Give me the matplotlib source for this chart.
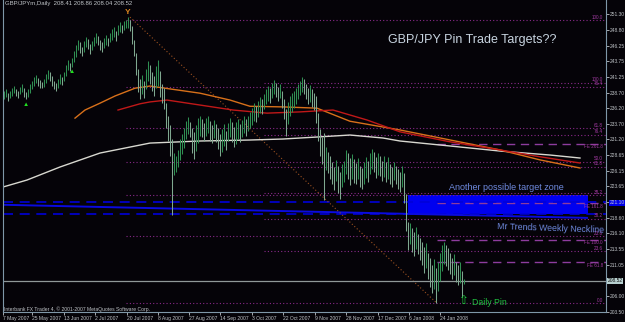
import numpy as np
import matplotlib.pyplot as plt

plt.rcParams['font.family'] = ['Liberation Sans', 'DejaVu Sans']

# daily bars, GBPJPY (high / low), one per bar from 7 May 2007
high = [
    238.9, 239.2, 238.6, 239.0, 239.5, 239.8, 239.3, 238.9, 239.6, 240.0, 239.4, 238.8, 239.3, 240.1,
    240.6, 241.2, 241.5, 241.0, 240.7, 240.4, 240.8,
    241.6, 242.4, 242.0, 241.3, 240.6, 240.3, 240.9, 241.6, 241.2,
    242.0, 243.2, 243.9, 243.5, 244.3, 245.3,
    246.3, 247.2, 246.8, 246.0, 246.9, 247.6, 247.3, 246.5,
    247.0, 247.6, 248.2, 247.7, 247.2, 246.8, 247.4, 248.0, 247.5, 248.3,
    248.9, 249.2, 248.6, 249.5, 250.0, 249.6, 250.2,
    250.4, 250.8, 250.3,
    249.4, 247.2, 245.0, 242.5, 240.8, 241.5, 240.5,
    242.5, 243.8, 243.2, 242.0, 241.4, 243.0, 243.9, 242.2, 240.0,
    239.5, 237.0, 235.0, 233.5, 231.2,
    229.0, 228.6, 229.5,
    231.2, 232.1, 233.0,
    234.2, 234.8, 234.0,
    233.0, 232.4, 233.5, 234.6, 235.0,
    234.5, 233.8, 234.6, 235.0, 234.2, 233.5, 234.3, 233.6,
    233.0, 232.0, 232.8, 233.6, 232.6,
    233.8, 234.6, 234.0, 233.2, 233.9, 234.4, 233.7,
    234.3, 234.9, 234.4, 235.0, 235.6,
    236.3, 237.0, 236.6, 237.4, 238.0, 237.6,
    238.5, 239.2, 239.8, 239.5,
    240.2, 240.7, 240.3, 239.6, 240.1,
    239.0, 237.6, 236.0, 237.2, 238.2,
    238.6, 239.0, 239.5, 240.0, 240.6,
    241.2, 240.9,
    240.0, 239.4, 239.9, 239.2, 238.7,
    238.2, 235.5,
    232.8, 231.5, 232.2, 230.0, 229.2, 228.5,
    227.6, 226.8, 227.9, 227.0, 226.0, 227.2, 227.8,
    229.5, 229.0, 228.2, 228.8, 228.0,
    227.4, 228.2, 227.0, 226.6, 227.5, 228.3, 227.8,
    229.0, 229.7, 229.2, 228.4, 229.0,
    228.6, 227.8, 228.5, 227.6, 228.3, 227.2, 226.8, 227.6,
    227.0, 226.4, 226.0, 227.0,
    225.8, 222.5, 218.0,
    217.8, 217.0, 216.4, 217.2, 216.0, 215.4,
    214.8, 213.9, 214.5, 213.0, 212.2, 211.0, 212.0, 210.5,
    211.6, 213.0, 214.2, 214.8, 214.3, 213.8,
    213.0, 212.2, 212.8, 211.6, 211.0, 211.5, 210.0, 208.86,
]
low = [
    237.6, 238.0, 237.4, 237.8, 238.2, 238.6, 238.1, 237.9, 238.4, 238.8, 238.0, 237.6, 238.0, 238.7,
    239.3, 239.8, 240.2, 239.7, 239.5, 239.4, 239.6,
    240.2, 240.8, 240.5, 239.8, 239.2, 239.0, 239.4, 240.1, 239.9,
    240.6, 241.4, 242.4, 242.2, 242.8, 243.6,
    244.4, 245.5, 245.1, 244.5, 245.2, 246.0, 245.7, 244.9,
    245.5, 246.2, 246.6, 246.3, 245.6, 245.2, 245.9, 246.4, 246.1, 246.8,
    247.2, 247.6, 246.9, 248.0, 248.4, 248.2, 248.7,
    249.0, 249.1, 248.6,
    246.5, 244.5, 241.5, 238.8, 237.6, 238.4, 237.8,
    239.2, 240.5, 240.0, 238.9, 238.2, 239.5, 239.7, 238.0, 237.0,
    236.0, 233.0, 231.0, 228.5, 219.1,
    225.4, 226.0, 226.8,
    227.9, 228.8, 229.8,
    231.2, 232.0, 231.5,
    229.0, 228.0, 229.3, 230.6, 231.8,
    231.5, 230.9, 231.7, 232.2, 231.0, 230.6, 231.4, 230.8,
    229.6, 228.5, 229.2, 230.2, 229.5,
    230.9, 231.5, 230.8, 230.0, 230.5, 231.2, 230.7,
    231.6, 232.2, 231.8, 232.5, 233.0,
    233.5, 234.2, 233.9, 234.8, 235.5, 235.2,
    236.1, 236.8, 237.3, 237.0,
    237.9, 238.4, 238.0, 237.4, 237.8,
    236.2, 234.5, 231.8, 233.6, 235.0,
    235.6, 236.3, 236.9, 237.6, 238.3,
    238.8, 238.5,
    237.6, 236.8, 237.2, 236.4, 235.9,
    233.8, 231.0,
    228.6, 227.2, 221.5, 226.2, 225.8, 224.9,
    224.0, 223.0, 224.5, 222.6, 221.6, 223.5, 224.3,
    225.6, 224.8, 223.8, 224.9, 224.2,
    224.0, 224.8, 223.6, 223.2, 224.1, 225.0, 224.4,
    225.6, 226.4, 225.9, 225.0, 225.5,
    225.3, 224.5, 225.2, 224.3, 224.8, 224.0, 223.6, 224.6,
    224.0, 223.2, 222.8, 223.5,
    221.0, 216.5, 213.4,
    214.4, 213.2, 212.5, 213.6, 212.8, 211.8,
    211.0, 209.7, 210.5, 208.8, 207.5, 206.5, 207.2, 204.9,
    206.8, 208.4, 210.0, 211.2, 210.8, 210.2,
    209.6, 208.8, 209.5, 208.3, 207.9, 208.2, 205.9, 208.04,
]

# moving averages, read at a few bars
white_x = [-0.5, 11.5, 28, 48, 73, 98, 123, 139.5, 156.5, 173, 189.5, 198, 223, 248, 273, 288]
white_y = [223.55, 224.67, 226.76, 229.0, 230.6, 230.93, 231.09, 231.25, 231.57, 231.89, 231.41,
           230.93, 230.13, 229.32, 228.68, 228.2]
orange_x = [35.5, 40.5, 48, 55.5, 65.5, 73, 80.5, 98, 113, 123, 139.5, 156.5, 173, 198, 223, 248, 268, 288]
orange_y = [234.6, 235.9, 237.0, 238.15, 239.4, 239.75, 239.4, 238.6, 237.5, 236.5, 236.4, 236.2,
            234.1, 232.7, 231.1, 229.5, 227.9, 226.6]
red_x = [57, 68, 73, 81.5, 98, 114.5, 131.5, 148, 164.5, 181.5, 198, 223, 248, 268, 288]
red_y = [235.9, 236.9, 237.2, 237.5, 236.7, 235.9, 235.4, 235.6, 235.9, 234.3, 232.4, 230.8,
         229.5, 228.4, 227.4]

# fibonacci retracements and expansion
fib_levels = [0.0, 23.6, 38.2, 50.0, 61.8, 76.4, 100.0]
fib1_high, fib1_start = 250.3, 61
fib2_high, fib2_start = 240.3, 130
fib_low = 204.9
fe_levels = [61.8, 100.0, 161.8, 261.8]
fe_base, fe_range, fe_start = 205.6, 9.5, 216.5

zone_x = [202, 292]
zone_y = [219.3, 222.3]
zone_lines = [221.14, 219.22]
neck_x = [-0.5, 291.5]
neck_y = [220.7, 218.6]
trend_x = [63, 216.5]
trend_y = [250.8, 204.9]
last_price = 208.52

price_ticks = [251.30, 248.80, 246.25, 243.75, 241.25, 238.70, 236.20, 233.70, 231.20, 228.65,
               226.15, 223.65, 221.10, 218.60, 216.10, 213.55, 211.05, 206.00, 203.50]
date_pos = [-0.5, 14, 30, 45.5, 61.5, 77, 92.5, 108, 124, 139.5, 155.5, 171, 187, 202.5, 218]
date_labels = ['7 May 2007', '25 May 2007', '13 Jun 2007', '2 Jul 2007', '20 Jul 2007',
               '8 Aug 2007', '27 Aug 2007', '14 Sep 2007', '3 Oct 2007', '22 Oct 2007',
               '9 Nov 2007', '28 Nov 2007', '17 Dec 2007', '6 Jan 2008', '24 Jan 2008']

bg = '#050308'
frame = '#7f97a8'
txt = '#c0c4c8'
fibc = '#8a2a8a'
lblc = '#a03aa0'

fig = plt.figure(figsize=(6.25, 3.22), dpi=100, facecolor=bg)
ax = fig.add_axes([3/625, 10/322, 603/625, 312/322], facecolor=bg)
ax.set_xlim(-0.5, 301)
ax.set_ylim(203.5, 253.55)

# fib lines
for lv in fib_levels:
    p = fib_low + (fib1_high - fib_low) * lv / 100
    ax.plot([fib1_start, 301], [p, p], color=fibc, lw=0.8, ls=(0, (1, 2)))
    ax.text(299.5, p + 0.1, '%.1f' % lv, color=lblc, fontsize=3.3, ha='right', va='bottom')
for lv in fib_levels[1:]:
    p = fib_low + (fib2_high - fib_low) * lv / 100
    ax.plot([fib2_start, 301], [p, p], color=fibc, lw=0.8, ls=(0, (1, 2)))
    if lv != 50.0:
        ax.text(299.5, p + 0.1, '%.1f' % lv, color=lblc, fontsize=3.3, ha='right', va='bottom')
for lv in fe_levels:
    p = fe_base + fe_range * lv / 100
    ax.plot([fe_start, 301], [p, p], color='#8e3c9e', lw=1.0, ls=(0, (6, 4)))
    ax.text(299.5, p - 0.1, 'FE %.1f' % lv, color=lblc, fontsize=3.3, ha='right', va='top')

# target zone and neckline
ax.fill_between(zone_x, zone_y[0], zone_y[1], color='#0000f0', lw=0)
for p in zone_lines:
    ax.axhline(p, color='#0000d8', lw=1.2, ls=(0, (6, 4)))
ax.plot(neck_x, neck_y, color='#0a0ae0', lw=1.4)
ax.plot(trend_x, trend_y, color='#9a5020', lw=0.8, ls=(0, (1, 2)))
ax.axhline(last_price, color='#909898', lw=0.9)

# moving averages
ax.plot(white_x, white_y, color='#d8d8d0', lw=1.0)
ax.plot(orange_x, orange_y, color='#d8701a', lw=1.0)
ax.plot(red_x, red_y, color='#c01818', lw=1.0)

# price bars: falling bars drawn lighter
x = np.arange(len(high))
mid = (np.array(high) + np.array(low)) / 2
down = np.r_[False, mid[1:] < mid[:-1]]
ax.vlines(x[~down], np.array(low)[~down], np.array(high)[~down], color='#2f8f52', lw=0.75)
ax.vlines(x[down], np.array(low)[down], np.array(high)[down], color='#7fa890', lw=0.75)

ax.text(x[11], low[11] - 0.35, '▲', color='#20e020', fontsize=4.5, ha='center', va='top')
ax.text(x[34], low[34] - 0.35, '▲', color='#20e020', fontsize=4.5, ha='center', va='top')
ax.text(x[62], high[62] + 0.2, 'Y', color='#e08820', fontsize=6, ha='center', va='bottom', fontweight='bold')

# annotations
ax.text(192, 247.1, 'GBP/JPY Pin Trade Targets??', color='#c8d4e0', fontsize=9, va='center')
ax.text(222.5, 223.5, 'Another possible target zone', color='#6f8adf', fontsize=6.5, va='center')
ax.text(246.5, 216.9, 'Mr Trends Weekly Neckline', color='#6f8adf', fontsize=6.3, va='center', rotation=-2)
ax.text(229.5, 205.4, '⇧', color='#20d040', fontsize=8.5, ha='center', va='center', family='DejaVu Sans')
ax.text(234, 205.1, 'Daily Pin', color='#20c040', fontsize=6.3, va='center')
ax.text(0.5, 253.0, 'GBP/JPYm,Daily  208.41 208.86 208.04 208.52', color=txt, fontsize=4.3, va='center')
ax.text(0.0, 203.95, 'Interbank FX Trader 4, © 2001-2007 MetaQuotes Software Corp.', color=txt,
        fontsize=3.6, va='center')

# axes
ax.yaxis.tick_right()
ax.set_yticks(price_ticks)
ax.set_yticklabels(['%.2f' % p for p in price_ticks])
ax.set_xticks(date_pos)
ax.set_xticklabels(date_labels, ha='left')
ax.tick_params(colors=txt, labelsize=3.6, length=2, pad=1, width=0.6)
ax.tick_params(axis='y', labelsize=3.5, pad=1)
for lbl in ax.get_yticklabels():
    if lbl.get_text() == '221.10':
        lbl.set_bbox(dict(facecolor='#0000e8', edgecolor='none', pad=0.5))
ax.text(1.0025, last_price, '%.2f' % last_price, transform=ax.get_yaxis_transform(), fontsize=3.5,
        va='center', color='#101010', bbox=dict(facecolor='#b8d0d0', edgecolor='none', pad=0.5))
for s in ['left', 'bottom', 'right']:
    ax.spines[s].set_color(frame)
    ax.spines[s].set_linewidth(0.8)
ax.spines['top'].set_visible(False)

fig.savefig('out.png', dpi=100, facecolor=bg)
